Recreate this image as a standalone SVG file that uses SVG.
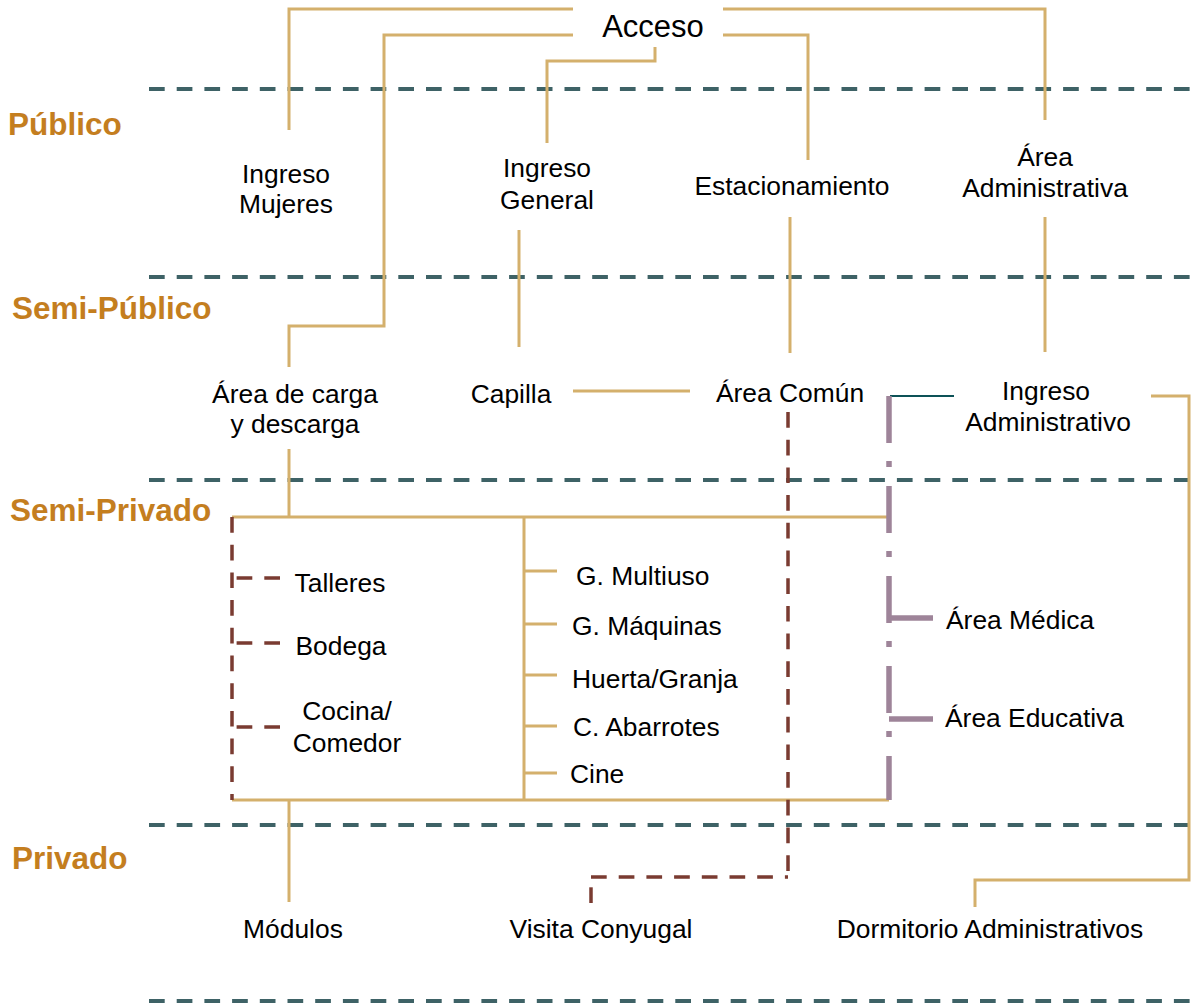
<svg xmlns="http://www.w3.org/2000/svg" width="1203" height="1004" viewBox="0 0 1203 1004">
<style>
.zone{stroke:#3E6266;stroke-width:4;stroke-dasharray:15.7 12;fill:none}
.sec{font-family:"Liberation Sans",Arial,sans-serif;font-weight:bold;font-size:31.5px;fill:#C47E1F}
.lbl{font-family:"Liberation Sans",Arial,sans-serif;font-size:26.4px;fill:#000}
.big{font-family:"Liberation Sans",Arial,sans-serif;font-size:31px;fill:#000}
.tan{stroke:#D4B06C;stroke-width:3;fill:none}
.brown{stroke:#7A3B31;stroke-width:3.5;stroke-dasharray:15.7 12;fill:none}
.purple{stroke:#9E8499;stroke-width:5.5;fill:none}
.teal{stroke:#0D5257;stroke-width:2;fill:none}
</style>
<rect width="1203" height="1004" fill="#fff"/>
<g id="zones">
<line class="zone" x1="149" y1="89" x2="1196" y2="89"/>
<line class="zone" x1="149" y1="277" x2="1196" y2="277"/>
<line class="zone" x1="149" y1="480" x2="1196" y2="480"/>
<line class="zone" x1="149" y1="825" x2="1196" y2="825"/>
<line class="zone" x1="149" y1="1001" x2="1196" y2="1001"/>
<text class="sec" x="8" y="135">Público</text>
<text class="sec" x="12" y="319">Semi-Público</text>
<text class="sec" x="10" y="521">Semi-Privado</text>
<text class="sec" x="12" y="869">Privado</text>
</g>
<g id="connectors">
<path class="tan" d="M573 9H289V130"/>
<path class="tan" d="M573 35H384V326H289V367"/>
<path class="tan" d="M655 47V61H547V143"/>
<path class="tan" d="M723 9H1045V120"/>
<path class="tan" d="M723 35H808V160"/>
<path class="tan" d="M519 230V347"/>
<path class="tan" d="M790 217V353"/>
<path class="tan" d="M1045 217V352"/>
<path class="tan" d="M573 391H690"/>
<path class="teal" d="M890 396H954"/>
<path class="tan" d="M1151 396H1189V880H975V907"/>
<path class="tan" d="M289 449V517"/>
<path class="tan" d="M232 517H889"/>
<path class="tan" d="M232 800H889"/>
<path class="tan" d="M524 517V800"/>
<path class="tan" d="M524 571H557M524 624H557M524 675H557M524 726H557M524 773H557"/>
<path class="tan" d="M289 800V902"/>
<path class="brown" d="M232 517V800"/>
<path class="brown" d="M280 578H232"/>
<path class="brown" d="M280 643H232"/>
<path class="brown" d="M280 727H232"/>
<path class="brown" d="M788 412V877"/>
<path class="brown" d="M591 877H788"/>
<path class="brown" d="M591 903V887"/>
<path class="purple" d="M889 396V800" style="stroke-dasharray:47 18 6 19"/>
<path class="purple" d="M889 618H933"/>
<path class="purple" d="M889 719H933"/>
</g>
<g id="n-acceso"><text class="big" x="653" y="37" text-anchor="middle">Acceso</text></g>
<g id="n-ingreso-mujeres"><text class="lbl" text-anchor="middle"><tspan x="286" y="183">Ingreso</tspan><tspan x="286" y="213">Mujeres</tspan></text></g>
<g id="n-ingreso-general"><text class="lbl" text-anchor="middle"><tspan x="547" y="177">Ingreso</tspan><tspan x="547" y="209">General</tspan></text></g>
<g id="n-estacionamiento"><text class="lbl" x="792" y="195" text-anchor="middle">Estacionamiento</text></g>
<g id="n-area-administrativa"><text class="lbl" text-anchor="middle"><tspan x="1045" y="166">Área</tspan><tspan x="1045" y="197">Administrativa</tspan></text></g>
<g id="n-area-carga"><text class="lbl" text-anchor="middle"><tspan x="295" y="403">Área de carga</tspan><tspan x="295" y="433">y descarga</tspan></text></g>
<g id="n-capilla"><text class="lbl" x="511" y="403" text-anchor="middle">Capilla</text></g>
<g id="n-area-comun"><text class="lbl" x="790" y="402" text-anchor="middle">Área Común</text></g>
<g id="n-ingreso-administrativo"><text class="lbl" text-anchor="middle"><tspan x="1046" y="400">Ingreso</tspan><tspan x="1048" y="431">Administrativo</tspan></text></g>
<g id="n-talleres"><text class="lbl" x="340" y="592" text-anchor="middle">Talleres</text></g>
<g id="n-bodega"><text class="lbl" x="341" y="655" text-anchor="middle">Bodega</text></g>
<g id="n-cocina"><text class="lbl" text-anchor="middle"><tspan x="347" y="720">Cocina/</tspan><tspan x="347" y="752">Comedor</tspan></text></g>
<g id="n-multiuso"><text class="lbl" x="576" y="585">G. Multiuso</text></g>
<g id="n-maquinas"><text class="lbl" x="572" y="635">G. Máquinas</text></g>
<g id="n-huerta"><text class="lbl" x="572" y="688">Huerta/Granja</text></g>
<g id="n-abarrotes"><text class="lbl" x="573" y="736">C. Abarrotes</text></g>
<g id="n-cine"><text class="lbl" x="570" y="783">Cine</text></g>
<g id="n-area-medica"><text class="lbl" x="946" y="629">Área Médica</text></g>
<g id="n-area-educativa"><text class="lbl" x="945" y="727">Área Educativa</text></g>
<g id="n-modulos"><text class="lbl" x="293" y="938" text-anchor="middle">Módulos</text></g>
<g id="n-visita"><text class="lbl" x="601" y="938" text-anchor="middle">Visita Conyugal</text></g>
<g id="n-dormitorio"><text class="lbl" x="990" y="938" text-anchor="middle">Dormitorio Administrativos</text></g>
</svg>
